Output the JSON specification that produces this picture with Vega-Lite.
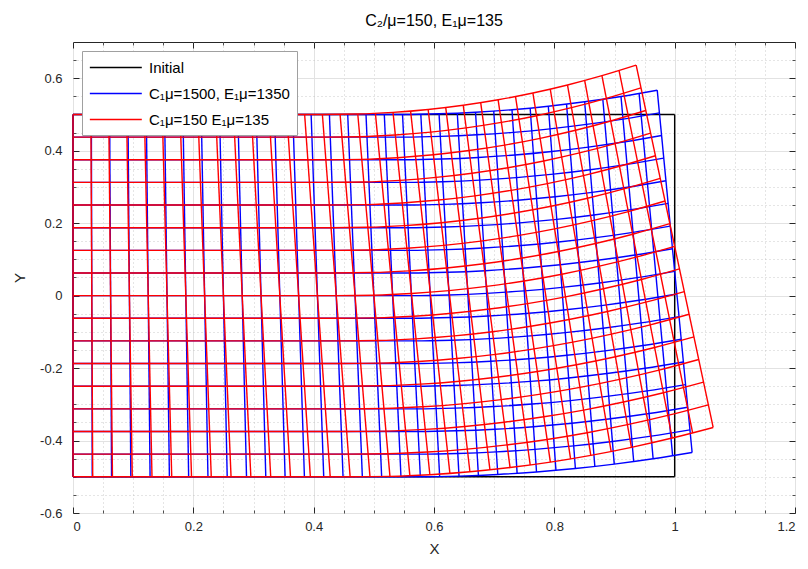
{
"$schema":"https://vega.github.io/schema/vega-lite/v6.json",
"width":722,"height":471,
"autosize":{"type":"none"},
"padding":{"left":73,"top":42,"right":13,"bottom":56},
"background":"#ffffff",
"config":{"font":"Liberation Sans","view":{"stroke":"#262626","strokeWidth":1}},
"title":{"text":"C₂/μ=150, E₁μ=135","fontSize":16,"fontWeight":"normal","color":"#000000","offset":13},
"datasets":{
"seg":[
{"s":"k","x":0,"y":0.5,"x2":1,"y2":0.5},{"s":"k","x":1,"y":0.5,"x2":1,"y2":-0.5},{"s":"k","x":0,"y":-0.5,"x2":1,"y2":-0.5},{"s":"k","x":0,"y":-0.5,"x2":0,"y2":0.5},
{"s":"b","x":0,"y":0.5,"x2":0,"y2":-0.5},
{"s":"b","x":0.0305,"y":0.5,"x2":0.032,"y2":-0.5},
{"s":"b","x":0.0609,"y":0.5,"x2":0.0641,"y2":-0.5},
{"s":"b","x":0.0914,"y":0.5,"x2":0.0961,"y2":-0.5},
{"s":"b","x":0.1219,"y":0.5,"x2":0.1281,"y2":-0.5},
{"s":"b","x":0.1523,"y":0.5,"x2":0.1602,"y2":-0.5},
{"s":"b","x":0.1828,"y":0.5,"x2":0.1922,"y2":-0.5},
{"s":"b","x":0.2132,"y":0.5,"x2":0.2243,"y2":-0.5},
{"s":"b","x":0.2437,"y":0.5,"x2":0.2563,"y2":-0.5},
{"s":"b","x":0.2741,"y":0.5,"x2":0.2884,"y2":-0.5},
{"s":"b","x":0.3046,"y":0.5,"x2":0.3204,"y2":-0.5},
{"s":"b","x":0.335,"y":0.5,"x2":0.3525,"y2":-0.5},
{"s":"b","x":0.3654,"y":0.5,"x2":0.3846,"y2":-0.5},
{"s":"b","x":0.3958,"y":0.5,"x2":0.4167,"y2":-0.5},
{"s":"b","x":0.4262,"y":0.5,"x2":0.4488,"y2":-0.5},
{"s":"b","x":0.4566,"y":0.5,"x2":0.4809,"y2":-0.5},
{"s":"b","x":0.487,"y":0.5,"x2":0.513,"y2":-0.5},
{"s":"b","x":0.5174,"y":0.5,"x2":0.5451,"y2":-0.5},
{"s":"b","x":0.5477,"y":0.5,"x2":0.5773,"y2":-0.5},
{"s":"b","x":0.5781,"y":0.5006,"x2":0.6094,"y2":-0.4994},
{"s":"b","x":0.6084,"y":0.5019,"x2":0.6416,"y2":-0.4981},
{"s":"b","x":0.6387,"y":0.5037,"x2":0.6738,"y2":-0.4963},
{"s":"b","x":0.669,"y":0.5063,"x2":0.706,"y2":-0.4937},
{"s":"b","x":0.6993,"y":0.5094,"x2":0.7382,"y2":-0.4906},
{"s":"b","x":0.7296,"y":0.5132,"x2":0.7704,"y2":-0.4868},
{"s":"b","x":0.7598,"y":0.5177,"x2":0.8027,"y2":-0.4823},
{"s":"b","x":0.79,"y":0.5228,"x2":0.835,"y2":-0.4772},
{"s":"b","x":0.8203,"y":0.5286,"x2":0.8673,"y2":-0.4714},
{"s":"b","x":0.8504,"y":0.535,"x2":0.8996,"y2":-0.465},
{"s":"b","x":0.8806,"y":0.542,"x2":0.9319,"y2":-0.458},
{"s":"b","x":0.9108,"y":0.5497,"x2":0.9642,"y2":-0.4503},
{"s":"b","x":0.9409,"y":0.558,"x2":0.9966,"y2":-0.442},
{"s":"b","x":0.971,"y":0.567,"x2":1.029,"y2":-0.433},
{"s":"r","x":0,"y":0.5,"x2":0,"y2":-0.5},
{"s":"r","x":0.0297,"y":0.5,"x2":0.0328,"y2":-0.5},
{"s":"r","x":0.0594,"y":0.5,"x2":0.0656,"y2":-0.5},
{"s":"r","x":0.0891,"y":0.5,"x2":0.0985,"y2":-0.5},
{"s":"r","x":0.1187,"y":0.5,"x2":0.1313,"y2":-0.5},
{"s":"r","x":0.1484,"y":0.5,"x2":0.1641,"y2":-0.5},
{"s":"r","x":0.178,"y":0.5,"x2":0.197,"y2":-0.5},
{"s":"r","x":0.2077,"y":0.5,"x2":0.2298,"y2":-0.5},
{"s":"r","x":0.2373,"y":0.5,"x2":0.2627,"y2":-0.5},
{"s":"r","x":0.2669,"y":0.5,"x2":0.2956,"y2":-0.5},
{"s":"r","x":0.2965,"y":0.5,"x2":0.3286,"y2":-0.5},
{"s":"r","x":0.326,"y":0.5,"x2":0.3615,"y2":-0.5},
{"s":"r","x":0.3555,"y":0.5,"x2":0.3945,"y2":-0.5},
{"s":"r","x":0.385,"y":0.5,"x2":0.4275,"y2":-0.5},
{"s":"r","x":0.4145,"y":0.5,"x2":0.4606,"y2":-0.5},
{"s":"r","x":0.4439,"y":0.5002,"x2":0.4936,"y2":-0.4998},
{"s":"r","x":0.4733,"y":0.5011,"x2":0.5268,"y2":-0.4989},
{"s":"r","x":0.5026,"y":0.503,"x2":0.5599,"y2":-0.497},
{"s":"r","x":0.5319,"y":0.5057,"x2":0.5931,"y2":-0.4943},
{"s":"r","x":0.5611,"y":0.5093,"x2":0.6264,"y2":-0.4907},
{"s":"r","x":0.5903,"y":0.5138,"x2":0.6597,"y2":-0.4862},
{"s":"r","x":0.6195,"y":0.5191,"x2":0.693,"y2":-0.4809},
{"s":"r","x":0.6486,"y":0.5254,"x2":0.7264,"y2":-0.4746},
{"s":"r","x":0.6776,"y":0.5325,"x2":0.7599,"y2":-0.4675},
{"s":"r","x":0.7066,"y":0.5405,"x2":0.7934,"y2":-0.4595},
{"s":"r","x":0.7355,"y":0.5494,"x2":0.827,"y2":-0.4506},
{"s":"r","x":0.7644,"y":0.5591,"x2":0.8606,"y2":-0.4409},
{"s":"r","x":0.7932,"y":0.5698,"x2":0.8944,"y2":-0.4302},
{"s":"r","x":0.8219,"y":0.5813,"x2":0.9281,"y2":-0.4187},
{"s":"r","x":0.8505,"y":0.5937,"x2":0.962,"y2":-0.4063},
{"s":"r","x":0.8791,"y":0.607,"x2":0.9959,"y2":-0.3931},
{"s":"r","x":0.9076,"y":0.6211,"x2":1.0299,"y2":-0.3789},
{"s":"r","x":0.936,"y":0.6361,"x2":1.064,"y2":-0.3639}
],
"pts":[
{"s":"b","g":"h0","x":0,"y":-0.5},{"s":"b","g":"h0","x":0.5773,"y":-0.5},{"s":"b","g":"h0","x":0.6416,"y":-0.4981},{"s":"b","g":"h0","x":0.706,"y":-0.4937},{"s":"b","g":"h0","x":0.7704,"y":-0.4868},{"s":"b","g":"h0","x":0.835,"y":-0.4772},{"s":"b","g":"h0","x":0.8996,"y":-0.465},{"s":"b","g":"h0","x":0.9642,"y":-0.4503},{"s":"b","g":"h0","x":1.029,"y":-0.433},
{"s":"b","g":"h1","x":0,"y":-0.4375},{"s":"b","g":"h1","x":0.5754,"y":-0.4375},{"s":"b","g":"h1","x":0.6395,"y":-0.4356},{"s":"b","g":"h1","x":0.7037,"y":-0.4312},{"s":"b","g":"h1","x":0.7679,"y":-0.4243},{"s":"b","g":"h1","x":0.8322,"y":-0.4147},{"s":"b","g":"h1","x":0.8965,"y":-0.4025},{"s":"b","g":"h1","x":0.9609,"y":-0.3878},{"s":"b","g":"h1","x":1.0254,"y":-0.3705},
{"s":"b","g":"h2","x":0,"y":-0.375},{"s":"b","g":"h2","x":0.5736,"y":-0.375},{"s":"b","g":"h2","x":0.6375,"y":-0.3731},{"s":"b","g":"h2","x":0.7014,"y":-0.3687},{"s":"b","g":"h2","x":0.7653,"y":-0.3618},{"s":"b","g":"h2","x":0.8294,"y":-0.3522},{"s":"b","g":"h2","x":0.8934,"y":-0.34},{"s":"b","g":"h2","x":0.9576,"y":-0.3253},{"s":"b","g":"h2","x":1.0218,"y":-0.308},
{"s":"b","g":"h3","x":0,"y":-0.3125},{"s":"b","g":"h3","x":0.5717,"y":-0.3125},{"s":"b","g":"h3","x":0.6354,"y":-0.3106},{"s":"b","g":"h3","x":0.6991,"y":-0.3062},{"s":"b","g":"h3","x":0.7628,"y":-0.2993},{"s":"b","g":"h3","x":0.8265,"y":-0.2897},{"s":"b","g":"h3","x":0.8904,"y":-0.2775},{"s":"b","g":"h3","x":0.9542,"y":-0.2628},{"s":"b","g":"h3","x":1.0181,"y":-0.2455},
{"s":"b","g":"h4","x":0,"y":-0.25},{"s":"b","g":"h4","x":0.5699,"y":-0.25},{"s":"b","g":"h4","x":0.6333,"y":-0.2481},{"s":"b","g":"h4","x":0.6967,"y":-0.2437},{"s":"b","g":"h4","x":0.7602,"y":-0.2368},{"s":"b","g":"h4","x":0.8237,"y":-0.2272},{"s":"b","g":"h4","x":0.8873,"y":-0.215},{"s":"b","g":"h4","x":0.9509,"y":-0.2003},{"s":"b","g":"h4","x":1.0145,"y":-0.183},
{"s":"b","g":"h5","x":0,"y":-0.1875},{"s":"b","g":"h5","x":0.568,"y":-0.1875},{"s":"b","g":"h5","x":0.6312,"y":-0.1856},{"s":"b","g":"h5","x":0.6944,"y":-0.1812},{"s":"b","g":"h5","x":0.7577,"y":-0.1743},{"s":"b","g":"h5","x":0.8209,"y":-0.1647},{"s":"b","g":"h5","x":0.8842,"y":-0.1525},{"s":"b","g":"h5","x":0.9475,"y":-0.1378},{"s":"b","g":"h5","x":1.0109,"y":-0.1205},
{"s":"b","g":"h6","x":0,"y":-0.125},{"s":"b","g":"h6","x":0.5662,"y":-0.125},{"s":"b","g":"h6","x":0.6292,"y":-0.1231},{"s":"b","g":"h6","x":0.6921,"y":-0.1187},{"s":"b","g":"h6","x":0.7551,"y":-0.1118},{"s":"b","g":"h6","x":0.8181,"y":-0.1022},{"s":"b","g":"h6","x":0.8811,"y":-0.09},{"s":"b","g":"h6","x":0.9442,"y":-0.0753},{"s":"b","g":"h6","x":1.0073,"y":-0.058},
{"s":"b","g":"h7","x":0,"y":-0.0625},{"s":"b","g":"h7","x":0.5644,"y":-0.0625},{"s":"b","g":"h7","x":0.6271,"y":-0.0606},{"s":"b","g":"h7","x":0.6898,"y":-0.0562},{"s":"b","g":"h7","x":0.7526,"y":-0.0493},{"s":"b","g":"h7","x":0.8153,"y":-0.0397},{"s":"b","g":"h7","x":0.8781,"y":-0.0275},{"s":"b","g":"h7","x":0.9408,"y":-0.0128},{"s":"b","g":"h7","x":1.0036,"y":0.0045},
{"s":"b","g":"h8","x":0,"y":0},{"s":"b","g":"h8","x":0.5625,"y":0},{"s":"b","g":"h8","x":0.625,"y":0.0019},{"s":"b","g":"h8","x":0.6875,"y":0.0063},{"s":"b","g":"h8","x":0.75,"y":0.0132},{"s":"b","g":"h8","x":0.8125,"y":0.0228},{"s":"b","g":"h8","x":0.875,"y":0.035},{"s":"b","g":"h8","x":0.9375,"y":0.0497},{"s":"b","g":"h8","x":1,"y":0.067},
{"s":"b","g":"h9","x":0,"y":0.0625},{"s":"b","g":"h9","x":0.5607,"y":0.0625},{"s":"b","g":"h9","x":0.6229,"y":0.0644},{"s":"b","g":"h9","x":0.6852,"y":0.0688},{"s":"b","g":"h9","x":0.7474,"y":0.0757},{"s":"b","g":"h9","x":0.8097,"y":0.0853},{"s":"b","g":"h9","x":0.8719,"y":0.0975},{"s":"b","g":"h9","x":0.9342,"y":0.1122},{"s":"b","g":"h9","x":0.9964,"y":0.1295},
{"s":"b","g":"h10","x":0,"y":0.125},{"s":"b","g":"h10","x":0.5588,"y":0.125},{"s":"b","g":"h10","x":0.6209,"y":0.1269},{"s":"b","g":"h10","x":0.6829,"y":0.1313},{"s":"b","g":"h10","x":0.7449,"y":0.1382},{"s":"b","g":"h10","x":0.8069,"y":0.1478},{"s":"b","g":"h10","x":0.8689,"y":0.16},{"s":"b","g":"h10","x":0.9308,"y":0.1747},{"s":"b","g":"h10","x":0.9928,"y":0.192},
{"s":"b","g":"h11","x":0,"y":0.1875},{"s":"b","g":"h11","x":0.557,"y":0.1875},{"s":"b","g":"h11","x":0.6188,"y":0.1894},{"s":"b","g":"h11","x":0.6806,"y":0.1938},{"s":"b","g":"h11","x":0.7423,"y":0.2007},{"s":"b","g":"h11","x":0.8041,"y":0.2103},{"s":"b","g":"h11","x":0.8658,"y":0.2225},{"s":"b","g":"h11","x":0.9275,"y":0.2372},{"s":"b","g":"h11","x":0.9891,"y":0.2545},
{"s":"b","g":"h12","x":0,"y":0.25},{"s":"b","g":"h12","x":0.5551,"y":0.25},{"s":"b","g":"h12","x":0.6167,"y":0.2519},{"s":"b","g":"h12","x":0.6783,"y":0.2563},{"s":"b","g":"h12","x":0.7398,"y":0.2632},{"s":"b","g":"h12","x":0.8013,"y":0.2728},{"s":"b","g":"h12","x":0.8627,"y":0.285},{"s":"b","g":"h12","x":0.9241,"y":0.2997},{"s":"b","g":"h12","x":0.9855,"y":0.317},
{"s":"b","g":"h13","x":0,"y":0.3125},{"s":"b","g":"h13","x":0.5533,"y":0.3125},{"s":"b","g":"h13","x":0.6146,"y":0.3144},{"s":"b","g":"h13","x":0.6759,"y":0.3188},{"s":"b","g":"h13","x":0.7372,"y":0.3257},{"s":"b","g":"h13","x":0.7985,"y":0.3353},{"s":"b","g":"h13","x":0.8597,"y":0.3475},{"s":"b","g":"h13","x":0.9208,"y":0.3622},{"s":"b","g":"h13","x":0.9819,"y":0.3795},
{"s":"b","g":"h14","x":0,"y":0.375},{"s":"b","g":"h14","x":0.5514,"y":0.375},{"s":"b","g":"h14","x":0.6126,"y":0.3769},{"s":"b","g":"h14","x":0.6736,"y":0.3813},{"s":"b","g":"h14","x":0.7347,"y":0.3882},{"s":"b","g":"h14","x":0.7957,"y":0.3978},{"s":"b","g":"h14","x":0.8566,"y":0.41},{"s":"b","g":"h14","x":0.9175,"y":0.4247},{"s":"b","g":"h14","x":0.9783,"y":0.442},
{"s":"b","g":"h15","x":0,"y":0.4375},{"s":"b","g":"h15","x":0.5496,"y":0.4375},{"s":"b","g":"h15","x":0.6105,"y":0.4394},{"s":"b","g":"h15","x":0.6713,"y":0.4438},{"s":"b","g":"h15","x":0.7321,"y":0.4507},{"s":"b","g":"h15","x":0.7928,"y":0.4603},{"s":"b","g":"h15","x":0.8535,"y":0.4725},{"s":"b","g":"h15","x":0.9141,"y":0.4872},{"s":"b","g":"h15","x":0.9746,"y":0.5045},
{"s":"b","g":"h16","x":0,"y":0.5},{"s":"b","g":"h16","x":0.5477,"y":0.5},{"s":"b","g":"h16","x":0.6084,"y":0.5019},{"s":"b","g":"h16","x":0.669,"y":0.5063},{"s":"b","g":"h16","x":0.7296,"y":0.5132},{"s":"b","g":"h16","x":0.79,"y":0.5228},{"s":"b","g":"h16","x":0.8504,"y":0.535},{"s":"b","g":"h16","x":0.9108,"y":0.5497},{"s":"b","g":"h16","x":0.971,"y":0.567},
{"s":"r","g":"h0","x":0,"y":-0.5},{"s":"r","g":"h0","x":0.4606,"y":-0.5},{"s":"r","g":"h0","x":0.5268,"y":-0.4989},{"s":"r","g":"h0","x":0.5931,"y":-0.4943},{"s":"r","g":"h0","x":0.6597,"y":-0.4862},{"s":"r","g":"h0","x":0.7264,"y":-0.4746},{"s":"r","g":"h0","x":0.7934,"y":-0.4595},{"s":"r","g":"h0","x":0.8606,"y":-0.4409},{"s":"r","g":"h0","x":0.9281,"y":-0.4187},{"s":"r","g":"h0","x":0.9959,"y":-0.3931},{"s":"r","g":"h0","x":1.064,"y":-0.3639},
{"s":"r","g":"h1","x":0,"y":-0.4375},{"s":"r","g":"h1","x":0.4577,"y":-0.4375},{"s":"r","g":"h1","x":0.5234,"y":-0.4364},{"s":"r","g":"h1","x":0.5893,"y":-0.4318},{"s":"r","g":"h1","x":0.6553,"y":-0.4237},{"s":"r","g":"h1","x":0.7216,"y":-0.4121},{"s":"r","g":"h1","x":0.788,"y":-0.397},{"s":"r","g":"h1","x":0.8546,"y":-0.3784},{"s":"r","g":"h1","x":0.9215,"y":-0.3562},{"s":"r","g":"h1","x":0.9886,"y":-0.3306},{"s":"r","g":"h1","x":1.056,"y":-0.3014},
{"s":"r","g":"h2","x":0,"y":-0.375},{"s":"r","g":"h2","x":0.4548,"y":-0.375},{"s":"r","g":"h2","x":0.5201,"y":-0.3739},{"s":"r","g":"h2","x":0.5855,"y":-0.3693},{"s":"r","g":"h2","x":0.651,"y":-0.3612},{"s":"r","g":"h2","x":0.7167,"y":-0.3496},{"s":"r","g":"h2","x":0.7826,"y":-0.3345},{"s":"r","g":"h2","x":0.8486,"y":-0.3159},{"s":"r","g":"h2","x":0.9149,"y":-0.2937},{"s":"r","g":"h2","x":0.9813,"y":-0.2681},{"s":"r","g":"h2","x":1.048,"y":-0.2389},
{"s":"r","g":"h3","x":0,"y":-0.3125},{"s":"r","g":"h3","x":0.4519,"y":-0.3125},{"s":"r","g":"h3","x":0.5167,"y":-0.3114},{"s":"r","g":"h3","x":0.5816,"y":-0.3068},{"s":"r","g":"h3","x":0.6467,"y":-0.2987},{"s":"r","g":"h3","x":0.7118,"y":-0.2871},{"s":"r","g":"h3","x":0.7771,"y":-0.272},{"s":"r","g":"h3","x":0.8426,"y":-0.2534},{"s":"r","g":"h3","x":0.9082,"y":-0.2312},{"s":"r","g":"h3","x":0.974,"y":-0.2056},{"s":"r","g":"h3","x":1.04,"y":-0.1764},
{"s":"r","g":"h4","x":0,"y":-0.25},{"s":"r","g":"h4","x":0.449,"y":-0.25},{"s":"r","g":"h4","x":0.5134,"y":-0.2489},{"s":"r","g":"h4","x":0.5778,"y":-0.2443},{"s":"r","g":"h4","x":0.6423,"y":-0.2362},{"s":"r","g":"h4","x":0.707,"y":-0.2246},{"s":"r","g":"h4","x":0.7717,"y":-0.2095},{"s":"r","g":"h4","x":0.8366,"y":-0.1909},{"s":"r","g":"h4","x":0.9016,"y":-0.1687},{"s":"r","g":"h4","x":0.9667,"y":-0.1431},{"s":"r","g":"h4","x":1.032,"y":-0.1139},
{"s":"r","g":"h5","x":0,"y":-0.1875},{"s":"r","g":"h5","x":0.4461,"y":-0.1875},{"s":"r","g":"h5","x":0.51,"y":-0.1864},{"s":"r","g":"h5","x":0.574,"y":-0.1818},{"s":"r","g":"h5","x":0.638,"y":-0.1737},{"s":"r","g":"h5","x":0.7021,"y":-0.1621},{"s":"r","g":"h5","x":0.7663,"y":-0.147},{"s":"r","g":"h5","x":0.8306,"y":-0.1284},{"s":"r","g":"h5","x":0.8949,"y":-0.1062},{"s":"r","g":"h5","x":0.9594,"y":-0.0806},{"s":"r","g":"h5","x":1.024,"y":-0.0514},
{"s":"r","g":"h6","x":0,"y":-0.125},{"s":"r","g":"h6","x":0.4433,"y":-0.125},{"s":"r","g":"h6","x":0.5067,"y":-0.1239},{"s":"r","g":"h6","x":0.5702,"y":-0.1193},{"s":"r","g":"h6","x":0.6337,"y":-0.1112},{"s":"r","g":"h6","x":0.6972,"y":-0.0996},{"s":"r","g":"h6","x":0.7609,"y":-0.0845},{"s":"r","g":"h6","x":0.8245,"y":-0.0659},{"s":"r","g":"h6","x":0.8883,"y":-0.0437},{"s":"r","g":"h6","x":0.9521,"y":-0.0181},{"s":"r","g":"h6","x":1.016,"y":0.0111},
{"s":"r","g":"h7","x":0,"y":-0.0625},{"s":"r","g":"h7","x":0.4404,"y":-0.0625},{"s":"r","g":"h7","x":0.5033,"y":-0.0614},{"s":"r","g":"h7","x":0.5663,"y":-0.0568},{"s":"r","g":"h7","x":0.6293,"y":-0.0487},{"s":"r","g":"h7","x":0.6924,"y":-0.0371},{"s":"r","g":"h7","x":0.7554,"y":-0.022},{"s":"r","g":"h7","x":0.8185,"y":-0.0034},{"s":"r","g":"h7","x":0.8816,"y":0.0188},{"s":"r","g":"h7","x":0.9448,"y":0.0445},{"s":"r","g":"h7","x":1.008,"y":0.0736},
{"s":"r","g":"h8","x":0,"y":0},{"s":"r","g":"h8","x":0.4375,"y":0},{"s":"r","g":"h8","x":0.5,"y":0.0011},{"s":"r","g":"h8","x":0.5625,"y":0.0057},{"s":"r","g":"h8","x":0.625,"y":0.0138},{"s":"r","g":"h8","x":0.6875,"y":0.0254},{"s":"r","g":"h8","x":0.75,"y":0.0405},{"s":"r","g":"h8","x":0.8125,"y":0.0591},{"s":"r","g":"h8","x":0.875,"y":0.0813},{"s":"r","g":"h8","x":0.9375,"y":0.107},{"s":"r","g":"h8","x":1,"y":0.1361},
{"s":"r","g":"h9","x":0,"y":0.0625},{"s":"r","g":"h9","x":0.4346,"y":0.0625},{"s":"r","g":"h9","x":0.4967,"y":0.0636},{"s":"r","g":"h9","x":0.5587,"y":0.0682},{"s":"r","g":"h9","x":0.6207,"y":0.0763},{"s":"r","g":"h9","x":0.6826,"y":0.0879},{"s":"r","g":"h9","x":0.7446,"y":0.103},{"s":"r","g":"h9","x":0.8065,"y":0.1216},{"s":"r","g":"h9","x":0.8684,"y":0.1438},{"s":"r","g":"h9","x":0.9302,"y":0.1695},{"s":"r","g":"h9","x":0.992,"y":0.1986},
{"s":"r","g":"h10","x":0,"y":0.125},{"s":"r","g":"h10","x":0.4317,"y":0.125},{"s":"r","g":"h10","x":0.4933,"y":0.1261},{"s":"r","g":"h10","x":0.5548,"y":0.1307},{"s":"r","g":"h10","x":0.6163,"y":0.1388},{"s":"r","g":"h10","x":0.6778,"y":0.1504},{"s":"r","g":"h10","x":0.7392,"y":0.1655},{"s":"r","g":"h10","x":0.8005,"y":0.1841},{"s":"r","g":"h10","x":0.8617,"y":0.2063},{"s":"r","g":"h10","x":0.9229,"y":0.232},{"s":"r","g":"h10","x":0.984,"y":0.2611},
{"s":"r","g":"h11","x":0,"y":0.1875},{"s":"r","g":"h11","x":0.4289,"y":0.1875},{"s":"r","g":"h11","x":0.49,"y":0.1886},{"s":"r","g":"h11","x":0.551,"y":0.1932},{"s":"r","g":"h11","x":0.612,"y":0.2013},{"s":"r","g":"h11","x":0.6729,"y":0.2129},{"s":"r","g":"h11","x":0.7337,"y":0.228},{"s":"r","g":"h11","x":0.7945,"y":0.2466},{"s":"r","g":"h11","x":0.8551,"y":0.2688},{"s":"r","g":"h11","x":0.9156,"y":0.2945},{"s":"r","g":"h11","x":0.976,"y":0.3236},
{"s":"r","g":"h12","x":0,"y":0.25},{"s":"r","g":"h12","x":0.426,"y":0.25},{"s":"r","g":"h12","x":0.4866,"y":0.2511},{"s":"r","g":"h12","x":0.5472,"y":0.2557},{"s":"r","g":"h12","x":0.6077,"y":0.2638},{"s":"r","g":"h12","x":0.668,"y":0.2754},{"s":"r","g":"h12","x":0.7283,"y":0.2905},{"s":"r","g":"h12","x":0.7884,"y":0.3091},{"s":"r","g":"h12","x":0.8484,"y":0.3313},{"s":"r","g":"h12","x":0.9083,"y":0.357},{"s":"r","g":"h12","x":0.968,"y":0.3861},
{"s":"r","g":"h13","x":0,"y":0.3125},{"s":"r","g":"h13","x":0.4231,"y":0.3125},{"s":"r","g":"h13","x":0.4833,"y":0.3136},{"s":"r","g":"h13","x":0.5434,"y":0.3182},{"s":"r","g":"h13","x":0.6033,"y":0.3263},{"s":"r","g":"h13","x":0.6632,"y":0.3379},{"s":"r","g":"h13","x":0.7229,"y":0.353},{"s":"r","g":"h13","x":0.7824,"y":0.3716},{"s":"r","g":"h13","x":0.8418,"y":0.3938},{"s":"r","g":"h13","x":0.901,"y":0.4195},{"s":"r","g":"h13","x":0.96,"y":0.4486},
{"s":"r","g":"h14","x":0,"y":0.375},{"s":"r","g":"h14","x":0.4202,"y":0.375},{"s":"r","g":"h14","x":0.4799,"y":0.3761},{"s":"r","g":"h14","x":0.5395,"y":0.3807},{"s":"r","g":"h14","x":0.599,"y":0.3888},{"s":"r","g":"h14","x":0.6583,"y":0.4004},{"s":"r","g":"h14","x":0.7174,"y":0.4155},{"s":"r","g":"h14","x":0.7764,"y":0.4341},{"s":"r","g":"h14","x":0.8352,"y":0.4563},{"s":"r","g":"h14","x":0.8937,"y":0.482},{"s":"r","g":"h14","x":0.952,"y":0.5111},
{"s":"r","g":"h15","x":0,"y":0.4375},{"s":"r","g":"h15","x":0.4173,"y":0.4375},{"s":"r","g":"h15","x":0.4766,"y":0.4386},{"s":"r","g":"h15","x":0.5357,"y":0.4432},{"s":"r","g":"h15","x":0.5947,"y":0.4513},{"s":"r","g":"h15","x":0.6534,"y":0.4629},{"s":"r","g":"h15","x":0.712,"y":0.478},{"s":"r","g":"h15","x":0.7704,"y":0.4966},{"s":"r","g":"h15","x":0.8285,"y":0.5188},{"s":"r","g":"h15","x":0.8864,"y":0.5445},{"s":"r","g":"h15","x":0.944,"y":0.5736},
{"s":"r","g":"h16","x":0,"y":0.5},{"s":"r","g":"h16","x":0.4145,"y":0.5},{"s":"r","g":"h16","x":0.4733,"y":0.5011},{"s":"r","g":"h16","x":0.5319,"y":0.5057},{"s":"r","g":"h16","x":0.5903,"y":0.5138},{"s":"r","g":"h16","x":0.6486,"y":0.5254},{"s":"r","g":"h16","x":0.7066,"y":0.5405},{"s":"r","g":"h16","x":0.7644,"y":0.5591},{"s":"r","g":"h16","x":0.8219,"y":0.5813},{"s":"r","g":"h16","x":0.8791,"y":0.607},{"s":"r","g":"h16","x":0.936,"y":0.6361}
]
},
"encoding":{
"color":{"field":"s","type":"nominal","scale":{"domain":["k","b","r"],"range":["#000000","#0000ff","#ff0000"]},
"legend":{"title":null,"orient":"top-left","offset":9,"symbolType":"M-1,0H5","symbolSize":300,"symbolStrokeWidth":1.5,"labelFontSize":15,"labelColor":"#000000","labelOffset":41,"fillColor":"#ffffff","strokeColor":"#a0a0a0","padding":7,"rowPadding":8,
"labelExpr":"datum.label=='k'?'Initial':datum.label=='b'?'C₁μ=1500, E₁μ=1350':'C₁μ=150 E₁μ=135'"}}
},
"layer":[
{"data":{"name":"seg"},"transform":[{"filter":"datum.s=='k'"}],
"mark":{"type":"rule","strokeWidth":1.4},
"encoding":{
"x":{"field":"x","type":"quantitative","scale":{"domain":[0,1.2],"nice":false,"zero":false},
"axis":{"orient":"bottom","values":[0.05,0.1,0.15,0.25,0.3,0.35,0.45,0.5,0.55,0.65,0.7,0.75,0.85,0.9,0.95,1.05,1.1,1.15],"labels":false,"ticks":true,"tickSize":-3,"tickColor":"#262626","tickWidth":0.8,"grid":true,"gridDash":[1,3],"gridColor":"#bdbdbd","gridWidth":0.8,"domain":false,"title":null}},
"x2":{"field":"x2"},
"y":{"field":"y","type":"quantitative","scale":{"domain":[-0.6,0.7],"nice":false,"zero":false},
"axis":{"orient":"left","values":[-0.55,-0.5,-0.45,-0.35,-0.3,-0.25,-0.15,-0.1,-0.05,0.05,0.1,0.15,0.25,0.3,0.35,0.45,0.5,0.55,0.65],"labels":false,"ticks":true,"tickSize":-3,"tickColor":"#262626","tickWidth":0.8,"grid":true,"gridDash":[1,3],"gridColor":"#bdbdbd","gridWidth":0.8,"domain":false,"title":null}},
"y2":{"field":"y2"}}},
{"data":{"name":"seg"},"transform":[{"filter":"datum.s=='b'"}],
"mark":{"type":"rule","strokeWidth":1.4},
"encoding":{
"x":{"field":"x","type":"quantitative","scale":{"domain":[0,1.2],"nice":false,"zero":false},
"axis":{"orient":"bottom","values":[0,0.2,0.4,0.6,0.8,1,1.2],"labelExpr":"format(datum.value,'~g')","labelFontSize":13,"labelColor":"#262626","labelPadding":13,"ticks":true,"tickSize":-6,"tickColor":"#262626","grid":true,"gridColor":"#e2e2e2","domain":false,"title":"X","titleFontSize":15,"titleFontWeight":"normal","titleColor":"#262626","titlePadding":8}},
"x2":{"field":"x2"},
"y":{"field":"y","type":"quantitative","scale":{"domain":[-0.6,0.7],"nice":false,"zero":false},
"axis":{"orient":"left","values":[-0.6,-0.4,-0.2,0,0.2,0.4,0.6],"labelExpr":"datum.value<0?'-'+format(-datum.value,'~g'):format(datum.value,'~g')","labelFontSize":13,"labelColor":"#262626","labelPadding":17,"ticks":true,"tickSize":-6,"tickColor":"#262626","grid":true,"gridColor":"#e2e2e2","domain":false,"title":"Y","titleFontSize":15,"titleFontWeight":"normal","titleColor":"#262626","titlePadding":12}},
"y2":{"field":"y2"}}},
{"data":{"name":"pts"},"transform":[{"filter":"datum.s=='b'"}],
"mark":{"type":"line","strokeWidth":1.4,"interpolate":"monotone"},
"encoding":{
"x":{"field":"x","type":"quantitative","scale":{"domain":[0,1.2],"nice":false,"zero":false},
"axis":{"orient":"top","values":[0,0.2,0.4,0.6,0.8,1,1.2],"labels":false,"ticks":true,"tickSize":-6,"tickColor":"#262626","grid":false,"domain":false,"title":null}},
"y":{"field":"y","type":"quantitative","scale":{"domain":[-0.6,0.7],"nice":false,"zero":false},
"axis":{"orient":"right","values":[-0.6,-0.4,-0.2,0,0.2,0.4,0.6],"labels":false,"ticks":true,"tickSize":-6,"tickColor":"#262626","grid":false,"domain":false,"title":null}},
"detail":{"field":"g"}}},
{"data":{"name":"seg"},"transform":[{"filter":"datum.s=='r'"}],
"mark":{"type":"rule","strokeWidth":1.4},
"encoding":{
"x":{"field":"x","type":"quantitative","scale":{"domain":[0,1.2],"nice":false,"zero":false},
"axis":{"orient":"top","values":[0.05,0.1,0.15,0.25,0.3,0.35,0.45,0.5,0.55,0.65,0.7,0.75,0.85,0.9,0.95,1.05,1.1,1.15],"labels":false,"ticks":true,"tickSize":-3,"tickColor":"#262626","tickWidth":0.8,"grid":false,"domain":false,"title":null}},
"x2":{"field":"x2"},
"y":{"field":"y","type":"quantitative","scale":{"domain":[-0.6,0.7],"nice":false,"zero":false},
"axis":{"orient":"right","values":[-0.55,-0.5,-0.45,-0.35,-0.3,-0.25,-0.15,-0.1,-0.05,0.05,0.1,0.15,0.25,0.3,0.35,0.45,0.5,0.55,0.65],"labels":false,"ticks":true,"tickSize":-3,"tickColor":"#262626","tickWidth":0.8,"grid":false,"domain":false,"title":null}},
"y2":{"field":"y2"}}},
{"data":{"name":"pts"},"transform":[{"filter":"datum.s=='r'"}],
"mark":{"type":"line","strokeWidth":1.4,"interpolate":"monotone"},
"encoding":{
"x":{"field":"x","type":"quantitative","scale":{"domain":[0,1.2],"nice":false,"zero":false},"axis":null},
"y":{"field":"y","type":"quantitative","scale":{"domain":[-0.6,0.7],"nice":false,"zero":false},"axis":null},
"detail":{"field":"g"}}}
],
"resolve":{"axis":{"x":"independent","y":"independent"}}
}
